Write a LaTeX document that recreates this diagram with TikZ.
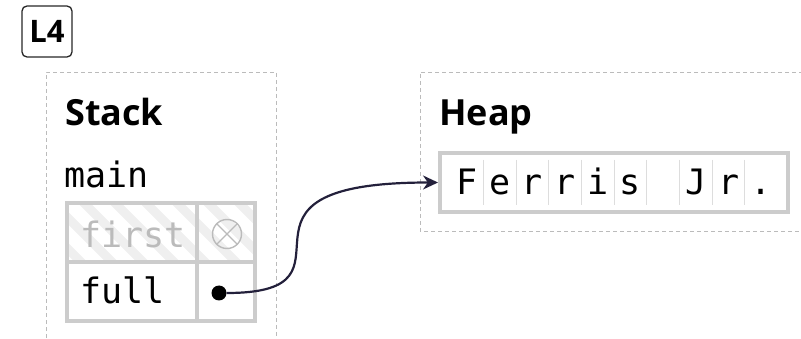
\documentclass[tikz,border=0pt]{standalone}
\usepackage{fontspec}
\setmainfont{Open Sans}
\setmonofont{DejaVu Sans Mono}
\usetikzlibrary{arrows.meta}

\definecolor{cellline}{HTML}{CCCCCC}
\definecolor{regionline}{HTML}{BBBBBB}
\definecolor{faded}{HTML}{BBBBBB}
\definecolor{hatchfill}{HTML}{EFEFEF}
\definecolor{divider}{HTML}{DDDDDD}
\definecolor{ink}{HTML}{23203B}

\tikzset{
  region/.style={draw=regionline, line width=0.9pt, dash pattern=on 4pt off 3pt},
  head/.style={font=\fontsize{36}{40}\selectfont\bfseries, inner sep=0pt},
  mono/.style={font=\ttfamily\fontsize{35}{40}\selectfont, inner sep=0pt},
  cellframe/.style={draw=cellline, line width=4pt},
  pointer/.style={draw=ink, line width=2.2pt, -{Stealth[length=15pt,width=14pt]}},
}

\begin{document}
\begin{tikzpicture}[x=1pt,y=-1pt]
\useasboundingbox (0,0) rectangle (801,339);

% step label
\node[draw=black!85, line width=1.3pt, rounded corners=5pt,
      minimum width=50pt, minimum height=51pt, inner sep=0pt,
      font=\fontsize{31}{33}\selectfont\bfseries] (steplabel) at (47,31.5) {L4};

% memory regions
\draw[region] (46,345) -- (46,72) -- (276,72) -- (276,345);
\draw[region] (810,72) -- (420,72) -- (420,231) -- (810,231);

\node[head, anchor=base west] (stacklbl) at (65,126) {Stack};
\node[head, anchor=base west] (heaplbl) at (439,126) {Heap};

% stack frame
\node[mono, anchor=base west] (framelbl) at (64,188) {main};

% moved-out slot is hatched
\begin{scope}
  \clip (67,203) rectangle (255,262);
  \foreach \i in {-5,...,7}
    \draw[hatchfill, line width=9pt] (\i*31+40,190) -- ++(90,90);
\end{scope}

\draw[cellframe] (67,203) rectangle (255,321);
\draw[cellframe] (67,262) -- (255,262);
\draw[cellframe] (197,203) -- (197,321);

\node[mono, anchor=base west, text=faded] (firstlbl) at (80,248) {first};
\node[mono, anchor=base west] (fulllbl) at (80,303) {full};

% null marker
\node[circle, draw=faded, line width=1.4pt, minimum size=29pt, inner sep=0pt] (nullmark) at (227,234) {};
\draw[faded, line width=1.4pt] (nullmark.north west) -- (nullmark.south east);
\draw[faded, line width=1.4pt] (nullmark.north east) -- (nullmark.south west);

% pointer origin
\node[circle, fill=black, minimum size=15pt, inner sep=0pt] (ptr) at (219,293) {};

% heap string
\node[cellframe, minimum width=348pt, minimum height=59pt, inner sep=0pt] (heaparr) at (614,182.5) {};
\foreach \k in {0,...,8}
  \draw[divider, line width=1pt] (483.3+\k*32.7,160) -- ++(0,45);
\foreach \c [count=\k from 0] in {F,e,r,r,i,s,{},J,r,.}
  \node[mono, anchor=base] (ch\k) at (467+\k*32.7,195) {\c};

% pointer arrow
\draw[pointer] (ptr.east) .. controls +(150,0) and +(-240,0) .. (heaparr.west);
\end{tikzpicture}
\end{document}
